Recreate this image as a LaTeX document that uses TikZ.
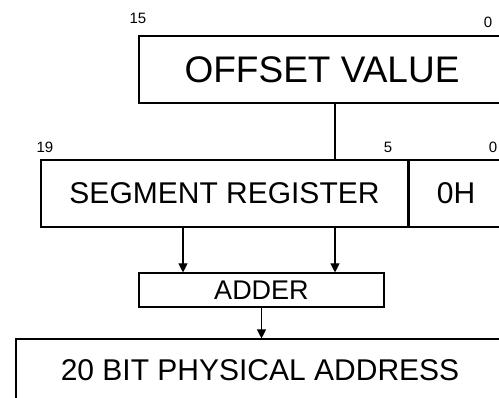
\documentclass[tikz,border=0pt]{standalone}
\usepackage{fontspec}
\setmainfont{Liberation Sans}
\usetikzlibrary{arrows.meta, positioning, calc}

\tikzset{
  regbox/.style={draw, line width=1.1pt, inner sep=0pt, anchor=center},
  bitlbl/.style={inner sep=0pt, font=\fontsize{15}{17}\selectfont},
  arr/.style={line width=1.1pt, -{Triangle[length=9pt,width=9pt]}},
}

\begin{document}
\begin{tikzpicture}[x=1pt, y=1pt]
    \useasboundingbox (0,0) rectangle (499,398);
    \clip (0,0) rectangle (499,398);
    % Offset register
    \node[regbox, minimum width=366pt, minimum height=67pt,
          font=\fontsize{37}{40}\selectfont] (offset) at (322,328.5) {OFFSET VALUE};
    \node[bitlbl] (off15) at (138,380) {15};
    \node[bitlbl] (off0) at (488,376) {0};
    % Segment register, shifted left by 4 bits
    \node[regbox, minimum width=367pt, minimum height=67pt,
          font=\fontsize{30}{34}\selectfont] (segreg) at (224.5,204.5) {SEGMENT REGISTER};
    \node[regbox, minimum width=94pt, minimum height=67pt, right=0pt of segreg,
          font=\fontsize{30}{34}\selectfont] (zeroh) {0H};
    \node[bitlbl] (seg19) at (45,251) {19};
    \node[bitlbl] (seg5) at (388,251) {5};
    \node[bitlbl] (seg0) at (493,251) {0};
    % Adder
    \node[regbox, minimum width=245pt, minimum height=34pt,
          font=\fontsize{27}{30}\selectfont] (adder) at (261.5,108) {ADDER};
    % Result
    \node[regbox, minimum width=488pt, minimum height=62pt,
          font=\fontsize{30}{34}\selectfont] (phys) at (260,28) {20 BIT PHYSICAL ADDRESS};
    % Connections
    \coordinate (tapL) at ($(adder.north)+(-78.5,0)$);
    \coordinate (tapR) at ($(adder.north)+(73.5,0)$);
    \draw[line width=1.1pt] (offset.south -| tapR) -- (segreg.north -| tapR);
    \draw[arr] (segreg.south -| tapL) -- (tapL);
    \draw[arr] (segreg.south -| tapR) -- (tapR);
    \draw[arr] (adder.south) -- (adder.south |- phys.north);
\end{tikzpicture}
\end{document}
